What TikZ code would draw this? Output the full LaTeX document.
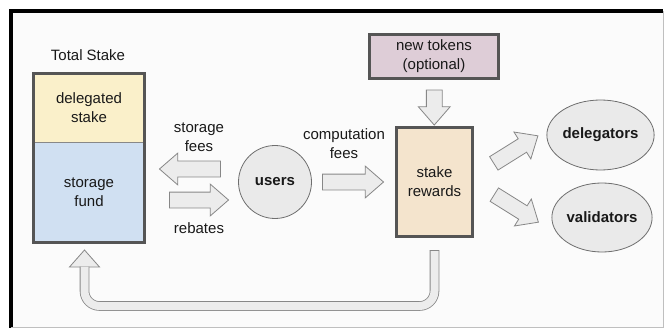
\documentclass[tikz,border=0pt]{standalone}
\usepackage{fontspec}
\setmainfont{Liberation Sans}
\usetikzlibrary{shapes.arrows,shapes.geometric,calc}
\definecolor{framebg}{RGB}{251,251,251}
\definecolor{boxline}{RGB}{85,85,85}
\definecolor{stakefill}{RGB}{250,240,202}
\definecolor{fundfill}{RGB}{208,224,242}
\definecolor{rewardfill}{RGB}{244,228,205}
\definecolor{tokenfill}{RGB}{222,205,215}
\definecolor{arrowfill}{RGB}{236,236,236}
\definecolor{arrowline}{RGB}{135,135,135}
\definecolor{blobfill}{RGB}{234,234,234}
\definecolor{blobline}{RGB}{110,110,110}
\definecolor{ink}{RGB}{25,25,25}

\begin{document}
\begin{tikzpicture}%
	[x=1pt, y=-1pt,
	every node/.style={font=\fontsize{15}{19}\selectfont, text=ink, align=center},
	panel/.style={draw=boxline, line width=3pt, inner sep=0pt},
	stackpart/.style={draw=boxline!70, thin, inner sep=0pt, outer sep=0pt, minimum width=111pt},
	blockarrow/.style={single arrow, draw=arrowline, fill=arrowfill, line width=0.8pt, inner sep=7.5pt, single arrow head extend=8pt, single arrow tip angle=82, minimum height=#1pt},
	loopedge/.style={draw=arrowline, line width=0.8pt},
	blob/.style={ellipse, draw=blobline, fill=blobfill, line width=0.8pt, inner sep=0pt, font=\fontsize{15}{19}\selectfont\bfseries}]
%
\useasboundingbox (0,0) rectangle (665,329);
%%
%% Drawing the frame
%%
\fill[framebg] (10.5,10.5) rectangle (663,327.5);
\draw[black, line width=3.7pt] (10.8,327.5) -- (10.8,10.8) -- (663,10.8);
\draw[black!25, thin] (663,10.8) -- (663,327.5) -- (10.8,327.5);
%%
%% Drawing the stake stack
%%
\node (total) at (88,55) {Total Stake};
\node[stackpart, fill=stakefill, minimum height=68.5pt] (delegated) at (89,107.75) {delegated\\stake};
\node[stackpart, fill=fundfill, minimum height=100.5pt] (fund) at (89,192.25) {storage\\fund};
\draw[panel] (delegated.north west) rectangle (fund.south east);
%%
%% Drawing the users and the rewards
%%
\node[blob, minimum width=73pt, minimum height=73pt] (users) at (275,182) {users};
\node[panel, fill=rewardfill, minimum width=76pt, minimum height=109pt] (rewards) at (434.5,182) {stake\\rewards};
\node[panel, fill=tokenfill, minimum width=129pt, minimum height=44pt] (tokens) at (434,56.5) {new tokens\\(optional)};
\node[blob, minimum width=95pt, minimum height=70pt] (delegators) at (600.5,135) {delegators};
\node[blob, minimum width=94pt, minimum height=69pt] (validators) at (602,217.5) {validators};
%%
%% Drawing the block arrows
%%
\node[blockarrow=61, rotate=180] (feesarrow) at (194.5,169) {};
\node[blockarrow=59] (rebatearrow) at (194.5,200) {};
\node[blockarrow=61] (comparrow) at (348.5,182) {};
\node[blockarrow=35, rotate=-90] (tokenarrow) at ($(tokens.south)!.5!(rewards.north)$) {};
\node[blockarrow=52, rotate=32] (delegarrow) at (512,152) {};
\node[blockarrow=52, rotate=-32] (validarrow) at (512.5,206) {};
\node (feeslabel) at (199,137.5) {storage\\fees};
\node (rebateslabel) at (199,228) {rebates};
\node (complabel) at (344,144) {computation\\fees};
%%
%% Drawing the way back to the fund
%%
\coordinate (loopstart) at ($(rewards.south)+(0,12)$);
\coordinate (looptip) at ($(fund.south)+(-4.5,7.5)$);
\filldraw[loopedge, fill=arrowfill] (looptip) -- ++(-15,17) -- ++(30,0) -- cycle;
\draw[loopedge, double=arrowfill, double distance=8pt, rounded corners=15pt] (loopstart) -- ++(0,56) -| ($(looptip)+(0,16.5)$);
\draw[loopedge] ([xshift=-4.8pt]loopstart) -- ([xshift=4.8pt]loopstart);

\end{tikzpicture}
\end{document}
